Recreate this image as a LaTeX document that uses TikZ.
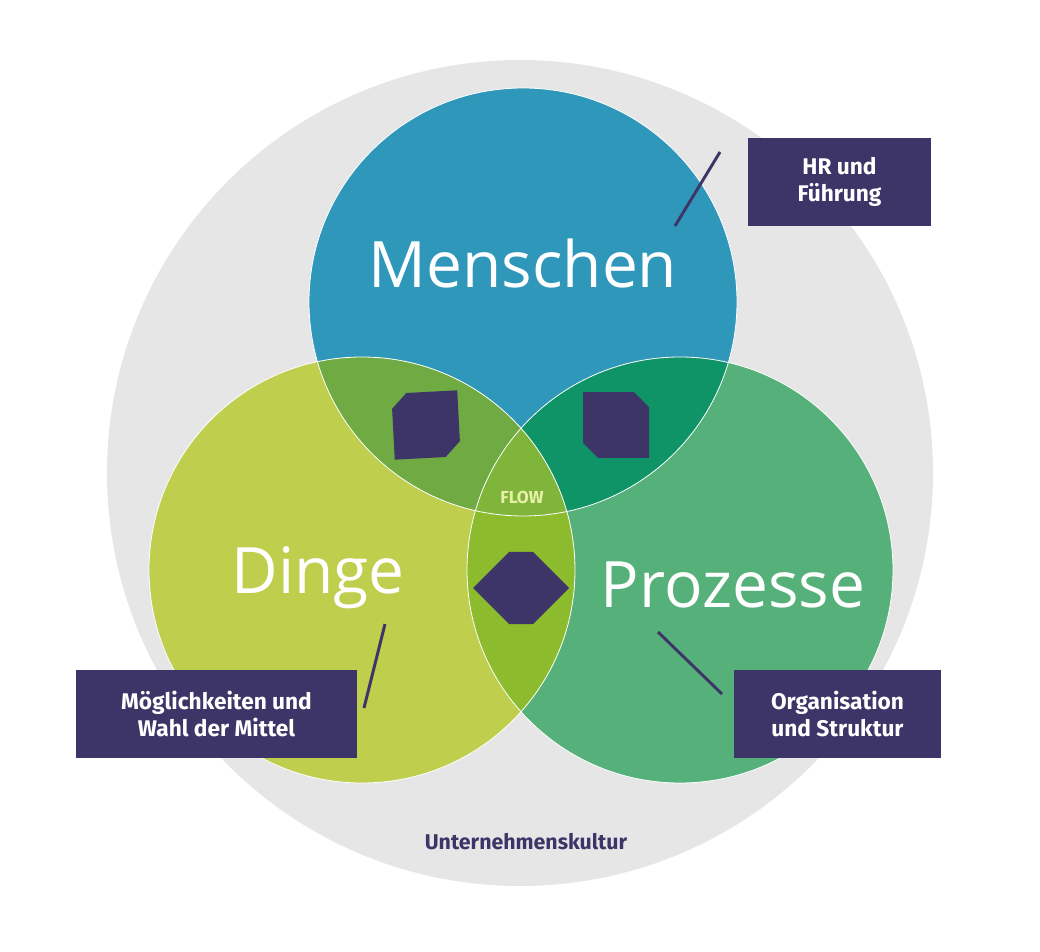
\documentclass[tikz,border=0pt]{standalone}
\usepackage{fontspec}
\setmainfont{Open Sans}
\newfontfamily\labelfont{Fira Sans}
\usetikzlibrary{shapes.arrows}
\definecolor{culture}{HTML}{E6E6E6}
\definecolor{people}{HTML}{2E97BA}
\definecolor{things}{HTML}{BFCE4D}
\definecolor{process}{HTML}{56B07A}
\definecolor{pt}{HTML}{6FAA42}
\definecolor{pp}{HTML}{0E9467}
\definecolor{tp}{HTML}{8DBB2E}
\definecolor{core}{HTML}{7EB53A}
\definecolor{ink}{HTML}{3D3567}
\definecolor{flowtext}{HTML}{E8F0A8}
\tikzset{every picture/.style={line width=0.75pt}}
\tikzset{
  tagbox/.style={fill=ink,text=white,font=\labelfont\bfseries\fontsize{17}{20}\selectfont,align=center,inner sep=0pt},
  tagline/.style={draw=ink,line width=2.2pt},
  bigword/.style={text=white,font=\fontsize{48}{50}\selectfont},
  flowarrow/.style={double arrow,fill=ink,minimum height=70,minimum width=54,double arrow head extend=0pt,inner sep=0pt,shape border uses incircle}
}
\begin{document}
\begin{tikzpicture}[x=0.75pt,y=0.75pt,yscale=-1,xscale=1]
\useasboundingbox (0,0) rectangle (1040,952);

% culture ring
\fill[culture] (520,473) circle (413);

% circles
\fill[people] (523,302) circle (214);
\fill[things] (362,570) circle (213);
\fill[process] (680,570) circle (213);

% overlaps
\begin{scope}
\clip (523,302) circle (214);
\fill[pt] (362,570) circle (213);
\fill[pp] (680,570) circle (213);
\end{scope}
\begin{scope}
\clip (362,570) circle (213);
\fill[tp] (680,570) circle (213);
\clip (680,570) circle (213);
\fill[core] (523,302) circle (214);
\end{scope}

% thin white rims
\draw[white,line width=0.6pt] (523,302) circle (214) (362,570) circle (213) (680,570) circle (213);

% words
\node[bigword] (menschen) at (523,264) {Menschen};
\node[bigword] (dinge) at (318,578) {Dinge};
\node[bigword] (prozesse) at (733,585) {Prozesse};
\node[text=flowtext,font=\labelfont\bfseries\fontsize{13}{15}\selectfont] (flow) at (522,497) {FLOW};

% arrows
\node[flowarrow,rotate=48] (a1) at (426,425) {};
\node[flowarrow,rotate=-45] (a2) at (616,425) {};
\node[flowarrow,minimum height=72] (a3) at (521,588) {};

% tags
\node[tagbox,minimum width=137,minimum height=66] (hr) at (839.5,182) {HR und\\Führung};
\node[tagbox,minimum width=211,minimum height=66] (mittel) at (216.5,714) {Möglichkeiten und\\Wahl der Mittel};
\node[tagbox,minimum width=155,minimum height=66] (orga) at (837.5,714) {Organisation\\und Struktur};

\coordinate (hr1) at (720,152);
\coordinate (hr2) at (675,226);
\coordinate (mi1) at (385,624);
\coordinate (mi2) at (364,708);
\coordinate (or1) at (658,632);
\coordinate (or2) at (722,694);
\draw[tagline] (hr1) -- (hr2);
\draw[tagline] (mi1) -- (mi2);
\draw[tagline] (or1) -- (or2);

\node[text=ink,font=\labelfont\bfseries\fontsize{16}{18}\selectfont] (kultur) at (526,842) {Unternehmenskultur};
\end{tikzpicture}
\end{document}
